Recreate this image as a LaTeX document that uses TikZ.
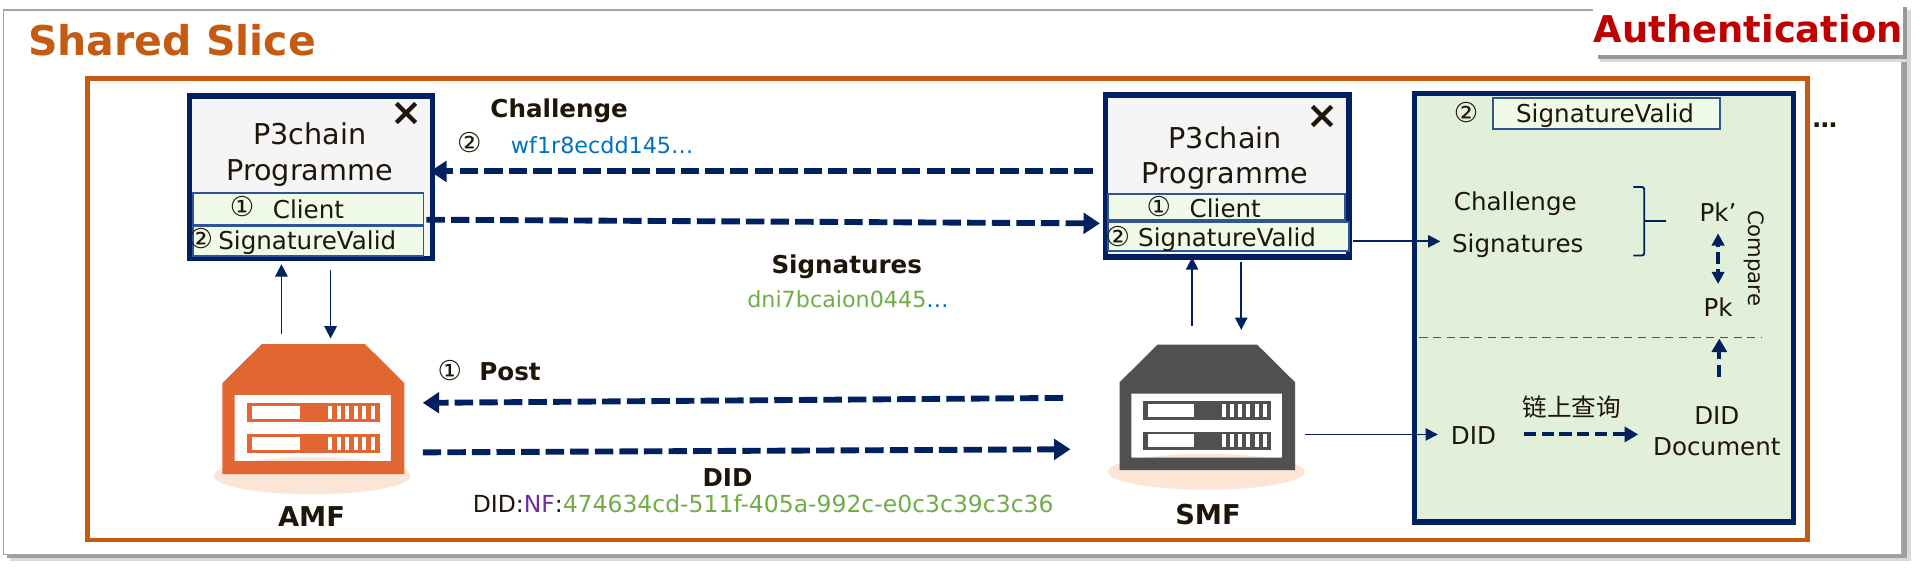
\documentclass[tikz,border=0pt]{standalone}
\usepackage{fontspec}
\setmainfont{DejaVu Sans}
\newfontfamily\cjk{Noto Sans CJK SC}
\usetikzlibrary{arrows.meta}
\definecolor{navy}{HTML}{002060}
\definecolor{rust}{HTML}{C55A11}
\definecolor{ink}{HTML}{1E1709}
\definecolor{rowfill}{HTML}{F0FAE9}
\definecolor{rowline}{HTML}{2F5597}
\definecolor{leaf}{HTML}{70AD47}
\definecolor{sky}{HTML}{0070C0}
\definecolor{plum}{HTML}{7030A0}
\definecolor{pale}{HTML}{E2EFD9}
\definecolor{amfc}{HTML}{E26632}
\definecolor{smfc}{HTML}{505050}
\definecolor{halo}{HTML}{FBE5D6}
\tikzset{
  x=0.9pt,y=-0.9064pt,
  flowline/.style={draw=navy,line width=4.3pt,dash pattern=on 13.5pt off 4.5pt,-{Triangle[length=12pt,width=15pt]}},
  minorflow/.style={draw=navy,line width=3pt,dash pattern=on 9pt off 4pt,-{Triangle[length=10pt,width=11pt]}},
  thinflow/.style={draw=navy,line width=1.3pt,-{Triangle[length=9pt,width=9pt]}},
  progbox/.style={draw=navy,line width=3.9pt,fill=black!4,inner sep=0pt},
  rowbox/.style={draw=rowline,line width=1.2pt,fill=rowfill,inner sep=0pt},
}
\newcommand\emf[1]{\fontsize{#1}{#1}\selectfont}
\newcommand\tlab[5][]{\node[inner sep=0pt,text=ink,text height=#4*0.73pt,text depth=0pt,font=\emf{#4},#1] (#2) at (#3) {#5};}
\newcommand\servericon[2]{%
  \fill[white] (10,41) rectangle (137,94.6);
  \fill[halo] (73,106.4) ellipse (#2 and 15);
  \fill[#1,even odd rule] (32,0) -- (116,0) -- (148,31.5) -- (148,105) -- (0,105) -- (0,31.5) -- cycle (10,41) rectangle (137,94.6);
  \foreach \yy in {47.5,72.8}{
    \fill[#1] (20,\yy) rectangle (128,\yy+15.5);
    \fill[white] (24,\yy+2.2) rectangle (63,\yy+13);
    \foreach \xx in {0,...,5}{\fill[white] (86+\xx*6.95,\yy+2.2) rectangle (89.4+\xx*6.95,\yy+13);}
  }%
}
\begin{document}
\begin{tikzpicture}
\useasboundingbox (0,0) rectangle (1568,458.9);
% outer sheet with shadow
\fill[black!15] (8,12) rectangle (1555,453);
\fill[black!38] (6,10) rectangle (1552,450.5);
\node[draw=black!35,line width=1pt,fill=white,inner sep=0pt,minimum width=1544.5*0.9pt,minimum height=440*0.9064pt,anchor=north west] (sheet) at (2.5,7.5) {};
% authentication tab
\fill[black!15] (1302,8) rectangle (1555,50);
\fill[black!40] (1300,6) rectangle (1552,47.5);
\node[fill=white,inner sep=0pt,minimum width=252*0.9pt,minimum height=41.5*0.9064pt,anchor=north west] (tab) at (1296,3) {};
\tlab[text=red!75!black]{authtxt}{1422.5,23.5}{27}{\bfseries Authentication}
\tlab[text=rust]{shared}{140,33}{30}{\bfseries Shared Slice}
\begin{scope}[shift={(-1,-1.5)}]
% slice frame
\node[draw=rust,line width=3.2pt,inner sep=0pt,minimum width=1399.5*0.9pt,minimum height=372.5*0.9064pt,anchor=north west] (slice) at (70.5,63.3) {};
% left programme box
\node[progbox,minimum width=198*0.9pt,minimum height=131*0.9064pt,anchor=north west] (progA) at (153,77) {};
\node[rowbox,minimum width=187.5*0.9pt,minimum height=25.5*0.9064pt,anchor=north west] (clientA) at (157.5,157) {};
\node[rowbox,minimum width=187.5*0.9pt,minimum height=24*0.9064pt,anchor=north west] (sigA) at (157.5,183.5) {};
\tlab{closeA}{332,92}{28}{\bfseries ×}
\tlab{nameAa}{253,110}{21}{P3chain}
\tlab{nameAb}{253,139}{21}{Programme}
\tlab{numAa}{198,168.5}{20}{①}
\tlab{textAa}{252,171}{18}{Client}
\tlab{numAb}{164.5,194}{20}{②}
\tlab{textAb}{251,196}{18}{SignatureValid}
% right programme box
\node[progbox,minimum width=198*0.9pt,minimum height=131*0.9064pt,anchor=north west] (progB) at (898.5,76) {};
\node[rowbox,minimum width=193*0.9pt,minimum height=21*0.9064pt,anchor=north west] (clientB) at (902,157.8) {};
\node[rowbox,minimum width=196*0.9pt,minimum height=23.4*0.9064pt,anchor=north west] (sigB) at (902,180) {};
\tlab{closeB}{1077,94}{28}{\bfseries ×}
\tlab{nameBa}{998,113}{21}{P3chain}
\tlab{nameBb}{998,141.5}{21}{Programme}
\tlab{numBa}{944,168.5}{20}{①}
\tlab{textBa}{998,170}{18}{Client}
\tlab{numBb}{910.5,192.5}{20}{②}
\tlab{textBb}{999.5,193.5}{18}{SignatureValid}
% challenge and signatures labels
\tlab{lblchal}{456,89}{18}{\bfseries Challenge}
\tlab{numchal}{383,117}{20}{②}
\tlab[text=sky]{valchal}{491,119}{16.3}{wf1r8ecdd145…}
\tlab{lblsig}{690,215}{18}{\bfseries Signatures}
\tlab[text=leaf]{valsig}{691,243}{16.3}{dni7bcaion0445\textcolor{sky}{…}}
% servers
\begin{scope}[shift={(182,279.5)}]\servericon{amfc}{80}\end{scope}
\begin{scope}[shift={(912,280)},scale=0.965]\servericon{smfc}{83}\end{scope}
\tlab{amf}{254.5,418.5}{20}{\bfseries AMF}
\tlab{smf}{984,417.5}{20}{\bfseries SMF}
\tlab{numpost}{367,301}{20}{①}
\tlab{lblpost}{416,302}{18}{\bfseries Post}
\tlab{lbldid}{593,387}{18}{\bfseries DID}
\tlab{valdid}{622,409}{17.2}{DID:\textcolor{plum}{NF}:\textcolor{leaf}{474634cd-511f-405a-992c-e0c3c39c3c36}}
% green verification panel
\node[draw=navy,line width=3.9pt,fill=pale,inner sep=0pt,minimum width=308*0.9pt,minimum height=346*0.9064pt,anchor=north west] (verify) at (1150,75) {};
\node[rowbox,minimum width=185*0.9pt,minimum height=25*0.9064pt,anchor=north west] (sigC) at (1215,80) {};
\tlab{numC}{1194,92.5}{20}{②}
\tlab{textC}{1307,93}{18}{SignatureValid}
\tlab{chalC}{1234,164}{18}{Challenge}
\tlab{sigsC}{1236,198}{18}{Signatures}
\tlab{pkp}{1399,173}{18}{Pk’}
\tlab{pkk}{1399,250}{18}{Pk}
\tlab[rotate=-90]{compare}{1430,210}{15.5}{Compare}
\tlab{didC}{1200,353}{18}{DID}
\tlab{didDa}{1398,337}{18}{DID}
\tlab{didDb}{1398,362}{18}{Document}
\tlab{chain}{1280,331}{18}{\cjk 链上查询}
\tlab{dots}{1486,97}{18}{\bfseries …}
% bracket
\coordinate (brtop) at (1330,152.5);
\coordinate (brbot) at (1330,208);
\coordinate (brmid) at (1339,180);
\coordinate (brout) at (1357,180);
\draw[navy,line width=1.3pt,rounded corners=2pt] (brtop) -- (1339,152.5) -- (1339,208) -- (brbot);
\draw[navy,line width=1.3pt] (brmid) -- (brout);
% divider
\coordinate (divl) at (1156,274);
\coordinate (divr) at (1434,274);
\draw[draw=rowline!60!sky,line width=1pt,dash pattern=on 6pt off 4pt] (divl) -- (divr);
% main dashed flows
\coordinate (cf1) at (890,140);
\coordinate (ct1) at (351,140);
\coordinate (cf2) at (348,179);
\coordinate (ct2) at (896,182);
\coordinate (cf3) at (866,323);
\coordinate (ct3) at (345,327);
\coordinate (cf4) at (345,367);
\coordinate (ct4) at (872,364.5);
\draw[flowline] (cf1) -- (ct1);
\draw[flowline] (cf2) -- (ct2);
\draw[flowline] (cf3) -- (ct3);
\draw[flowline] (cf4) -- (ct4);
% minor flows
\coordinate (pkmid) at (1399,210);
\coordinate (cmpT) at (1399,190);
\coordinate (cmpB) at (1399,231);
\draw[draw=navy,line width=2.4pt,dash pattern=on 4.5pt off 3.5pt,-{Triangle[length=9pt,width=9pt]}] (pkmid) -- (cmpT);
\draw[draw=navy,line width=2.4pt,dash pattern=on 4.5pt off 3.5pt,-{Triangle[length=9pt,width=9pt]}] (pkmid) -- (cmpB);
\coordinate (upF) at (1400,306);
\coordinate (upT) at (1400,275);
\draw[minorflow] (upF) -- (upT);
\coordinate (qF) at (1241,352.5);
\coordinate (qT) at (1334,352.5);
\draw[minorflow] (qF) -- (qT);
% thin flows
\coordinate (a1) at (230,271);
\coordinate (a2) at (230,215);
\coordinate (a3) at (270,219.5);
\coordinate (a4) at (270,275);
\coordinate (b1) at (971,265);
\coordinate (b2) at (971,209.5);
\coordinate (b3) at (1011,213);
\coordinate (b4) at (1011,268);
\coordinate (s1) at (1102,196.5);
\coordinate (s2) at (1173,196.5);
\coordinate (d1) at (1063,352.5);
\coordinate (d2) at (1171,352.5);
\draw[thinflow] (a1) -- (a2);
\draw[thinflow] (a3) -- (a4);
\draw[thinflow] (b1) -- (b2);
\draw[thinflow] (b3) -- (b4);
\draw[thinflow] (s1) -- (s2);
\draw[thinflow] (d1) -- (d2);
\end{scope}
\end{tikzpicture}
\end{document}
